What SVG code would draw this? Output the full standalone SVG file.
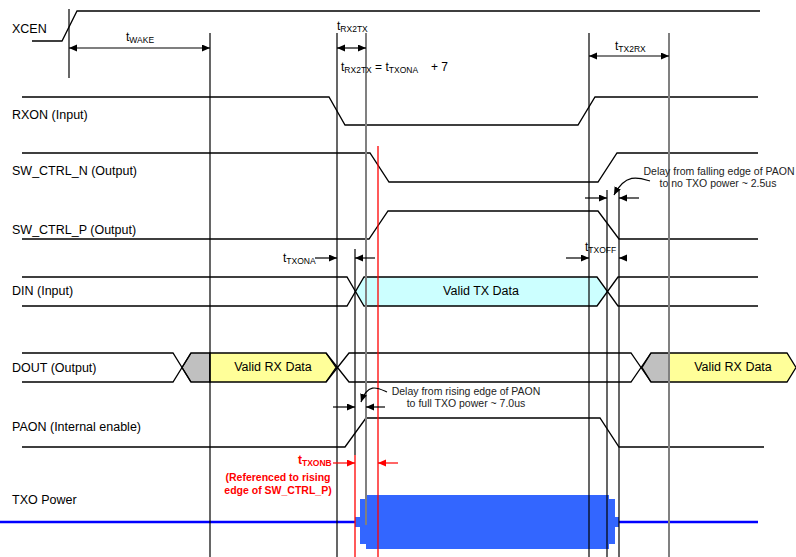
<svg xmlns="http://www.w3.org/2000/svg" width="796" height="557" viewBox="0 0 796 557">
<style>
text{font-family:"Liberation Sans",Arial,sans-serif;}
.lbl{font-size:12.5px;fill:#000;}
.t{font-size:12px;fill:#000;}
.sub{font-size:8.5px;}
.note{font-size:10.5px;fill:#222;text-anchor:middle;}
.red{fill:#ff0000;font-weight:bold;}
.w{fill:none;stroke:#000;stroke-width:1.3;}
.v{stroke:#000;stroke-width:1.2;}
.g{stroke:#808080;stroke-width:2;}
.r{stroke:#ff0000;stroke-width:1.3;}
.a{stroke:#000;stroke-width:1.2;fill:none;marker-end:url(#ah);}
.a2{stroke:#000;stroke-width:1.2;fill:none;marker-end:url(#ah);marker-start:url(#ahs);}
.ar{stroke:#ff0000;stroke-width:1.2;fill:none;marker-end:url(#ahr);}
</style>
<defs>
<marker id="ah" markerUnits="userSpaceOnUse" markerWidth="9" markerHeight="8" refX="8" refY="3.5" orient="auto"><path d="M0,0 L8,3.5 L0,7 z" fill="#000"/></marker>
<marker id="ahs" markerUnits="userSpaceOnUse" markerWidth="9" markerHeight="8" refX="8" refY="3.5" orient="auto-start-reverse"><path d="M0,0 L8,3.5 L0,7 z" fill="#000"/></marker>
<marker id="ahr" markerUnits="userSpaceOnUse" markerWidth="9" markerHeight="8" refX="8" refY="3.5" orient="auto"><path d="M0,0 L8,3.5 L0,7 z" fill="#ff0000"/></marker>
</defs>
<rect width="796" height="557" fill="#fff"/>

<g id="xcen">
<path class="w" d="M32,41 H62 L77,11 H760"/>
<text class="lbl" x="12" y="33">XCEN</text>
</g>
<g id="rxon">
<path class="w" d="M22,97 H329 L345,125 H578 L595,97 H758"/>
<text class="lbl" x="12" y="119">RXON (Input)</text>
</g>
<g id="sw_ctrl_n">
<path class="w" d="M22,153 H370 L389,182 H598 L617,153 H758"/>
<text class="lbl" x="12" y="175">SW_CTRL_N (Output)</text>
</g>
<g id="sw_ctrl_p">
<path class="w" d="M22,239 H369 L388,211 H598 L619,239 H758"/>
<text class="lbl" x="12" y="234">SW_CTRL_P (Output)</text>
</g>
<g id="din">
<path d="M355.5,291.5 L364,277 H597 L607.5,291.5 L597,306 H364 Z" fill="#ccffff"/>
<path class="w" d="M22,277 H347 L364,306 H597 L618,277 H758"/>
<path class="w" d="M22,306 H347 L364,277 H597 L618,306 H758"/>
<text class="lbl" x="12" y="295">DIN (Input)</text>
<text class="lbl" x="481" y="295" text-anchor="middle">Valid TX Data</text>
</g>
<g id="dout">
<path d="M182,367.5 L191,353 H210 V382 H191 Z" fill="#c0c0c0" stroke="#000" stroke-width="1.3"/>
<path d="M210,353 H326 L336,367.5 L326,382 H210 Z" fill="#ffff99" stroke="#000" stroke-width="1.3"/>
<path d="M642,367.5 L651,353 H669 V382 H651 Z" fill="#c0c0c0" stroke="#000" stroke-width="1.3"/>
<path d="M669,353 H787 L796,367.5 L787,382 H669 Z" fill="#ffff99" stroke="#000" stroke-width="1.3"/>
<path class="w" d="M22,353 H173 L191,382"/>
<path class="w" d="M22,382 H173 L191,353"/>
<path class="w" d="M326,353 L349,382 H631 L651,353"/>
<path class="w" d="M326,382 L349,353 H631 L651,382"/>
<text class="lbl" x="12" y="372">DOUT (Output)</text>
<text class="lbl" x="273" y="371" text-anchor="middle">Valid RX Data</text>
<text class="lbl" x="733" y="371" text-anchor="middle">Valid RX Data</text>
</g>
<g id="paon">
<path class="w" d="M22,447 H345 L366,418 H600 L619,447 H764"/>
<text class="lbl" x="12" y="431">PAON (Internal enable)</text>
</g>
<g id="txo_power">
<path d="M0,522 H355 M619,522 H758" stroke="#0000ff" stroke-width="2.5" fill="none"/>
<g fill="#3366ff">
<rect x="355" y="517" width="5" height="10"/>
<rect x="360" y="499" width="6" height="45"/>
<rect x="366" y="495" width="243" height="54"/>
<rect x="609" y="499" width="6" height="45"/>
<rect x="615" y="517" width="4" height="10"/>
</g>
<text class="lbl" x="12" y="504">TXO Power</text>
</g>

<g id="connectors">
<line class="v" x1="69" y1="9" x2="69" y2="78"/>
<line class="v" x1="210" y1="33" x2="210" y2="557"/>
<line class="v" x1="337" y1="33" x2="337" y2="557"/>
<line class="g" x1="366" y1="33" x2="366" y2="525"/>
<line class="v" x1="355" y1="249" x2="355" y2="455"/>
<line class="r" x1="355" y1="455" x2="355" y2="557"/>
<line class="r" x1="378" y1="146" x2="378" y2="557"/>
<line class="v" x1="589" y1="33" x2="589" y2="557"/>
<line class="v" x1="607" y1="190" x2="607" y2="557"/>
<line class="v" x1="619" y1="190" x2="619" y2="557"/>
<line class="g" x1="669" y1="33" x2="669" y2="557"/>

<line class="a2" x1="69" y1="48" x2="210" y2="48"/>
<line class="a2" x1="337" y1="48" x2="366" y2="48"/>
<line class="a2" x1="589" y1="56" x2="669" y2="56"/>
<line class="a" x1="315" y1="258" x2="337" y2="258"/>
<line class="a" x1="375" y1="258" x2="355" y2="258"/>
<line class="a" x1="566" y1="258" x2="589" y2="258"/>
<line class="a" x1="627" y1="258" x2="619" y2="258"/>
<line class="a" x1="585" y1="198" x2="607" y2="198"/>
<line class="a" x1="639" y1="198" x2="619" y2="198"/>
<line class="a" x1="333" y1="407" x2="355" y2="407"/>
<line class="a" x1="385" y1="407" x2="366" y2="407"/>
<line class="ar" x1="333" y1="463" x2="355" y2="463"/>
<line class="ar" x1="398" y1="463" x2="378" y2="463"/>
<path class="a" d="M650,181 C640,178 626,172 614,195"/>
<path class="a" d="M387,392 C378,388 368,382 361,402"/>
</g>

<g id="labels">
<text class="t" x="126" y="41">t<tspan class="sub" dy="2">WAKE</tspan></text>
<text class="t" x="337" y="30">t<tspan class="sub" dy="2">RX2TX</tspan></text>
<text class="t" x="341" y="71">t<tspan class="sub" dy="2">RX2TX</tspan><tspan dy="-2"> = t</tspan><tspan class="sub" dy="2">TXONA</tspan></text>
<text class="t" x="431" y="71">+ 7</text>
<text class="t" x="615" y="50">t<tspan class="sub" dy="2">TX2RX</tspan></text>
<text class="t" x="283" y="262">t<tspan class="sub" dy="2">TXONA</tspan></text>
<text class="t" x="585" y="251">t<tspan class="sub" dy="2">TXOFF</tspan></text>
<text class="t red" x="298" y="464">t<tspan class="sub" dy="2">TXONB</tspan></text>
<text class="note" x="719" y="175">Delay from falling edge of PAON</text>
<text class="note" x="718" y="187">to no TXO power ~ 2.5us</text>
<text class="note" x="466" y="395">Delay from rising edge of PAON</text>
<text class="note" x="466" y="407">to full TXO power ~ 7.0us</text>
<text class="note red" x="278" y="481">(Referenced to rising</text>
<text class="note red" x="278" y="494">edge of SW_CTRL_P)</text>
</g>
</svg>
